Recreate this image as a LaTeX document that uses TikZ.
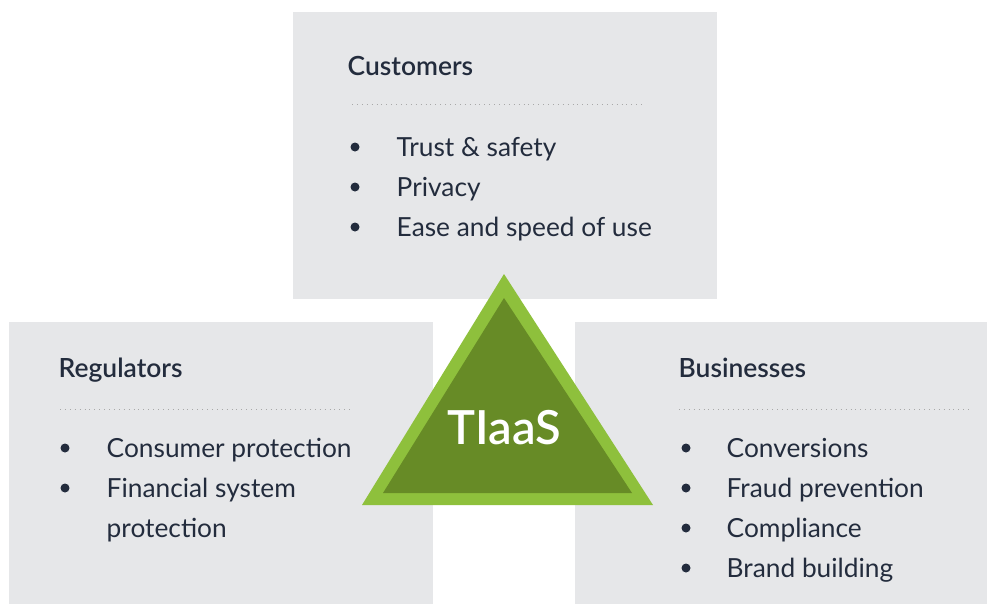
\documentclass[tikz,border=0pt]{standalone}
\usepackage{fontspec}
\setmainfont{Lato}
\newfontfamily\semib{Lato Semibold}
\definecolor{panelgray}{HTML}{E6E7E9}
\definecolor{ink}{HTML}{232C3D}
\definecolor{rulegray}{HTML}{A8A8A8}
\definecolor{leaflight}{HTML}{8EC03C}
\definecolor{leafdark}{HTML}{678B26}
\begin{document}
\begin{tikzpicture}[x=1pt,y=-1pt,
  panel/.style={fill=panelgray, draw=none, inner sep=0pt, anchor=north west},
  heading/.style={text=ink, font=\semib\fontsize{26.4}{32}\selectfont, anchor=base west, inner sep=0pt},
  item/.style={text=ink, font=\fontsize{26.3}{32}\selectfont, anchor=base west, inner sep=0pt},
  dotrule/.style={draw=rulegray, line width=1pt, dash pattern=on 1pt off 3.9pt},
  bulletdot/.style={circle, fill=ink, inner sep=0pt, minimum size=9pt}]
\useasboundingbox (0,0) rectangle (987,605);

% three panels
\node[panel, minimum width=424pt, minimum height=287pt] (cust) at (293,12) {};
\node[panel, minimum width=424pt, minimum height=282pt] (reg) at (9,322) {};
\node[panel, minimum width=412pt, minimum height=282pt] (bus) at (575,322) {};

% Customers
\node[heading] (custT) at (347.5,75) {Customers};
\coordinate (custL) at (352,104);
\coordinate (custR) at (643,104);
\draw[dotrule] (custL) -- (custR);
\node[bulletdot] (cb1) at (355,147) {};
\node[bulletdot] (cb2) at (355,187) {};
\node[bulletdot] (cb3) at (355,227) {};
\node[item] (c1) at (396.5,156) {Trust \& safety};
\node[item] (c2) at (396.5,196) {Privacy};
\node[item] (c3) at (396.5,236) {Ease and speed of use};

% Regulators
\node[heading] (regT) at (58.5,377) {Regulators};
\coordinate (regL) at (60,409);
\coordinate (regR) at (352,409);
\draw[dotrule] (regL) -- (regR);
\node[bulletdot] (rb1) at (65,448) {};
\node[bulletdot] (rb2) at (65,488) {};
\node[item] (r1) at (106.5,457) {Consumer protection};
\node[item] (r2) at (106.5,497) {Financial system};
\node[item] (r3) at (106.5,537) {protection};

% Businesses
\node[heading] (busT) at (678.5,377) {Businesses};
\coordinate (busL) at (679,409);
\coordinate (busR) at (970,409);
\draw[dotrule] (busL) -- (busR);
\node[bulletdot] (bb1) at (686,448) {};
\node[bulletdot] (bb2) at (686,488) {};
\node[bulletdot] (bb3) at (686,528) {};
\node[bulletdot] (bb4) at (686,568) {};
\node[item] (b1) at (726.5,457) {Conversions};
\node[item] (b2) at (726.5,497) {Fraud prevention};
\node[item] (b3) at (726.5,537) {Compliance};
\node[item] (b4) at (726.5,577) {Brand building};

% central triangle
\fill[leaflight] (504,274) -- (362,505) -- (653,505) -- cycle;
\fill[leafdark] (504,298) -- (383,493) -- (632,493) -- cycle;
\node[text=white, font=\semib\fontsize{47}{50}\selectfont, anchor=base, inner sep=0pt] (tiaas) at (504.5,444) {TIaaS};
\end{tikzpicture}
\end{document}
